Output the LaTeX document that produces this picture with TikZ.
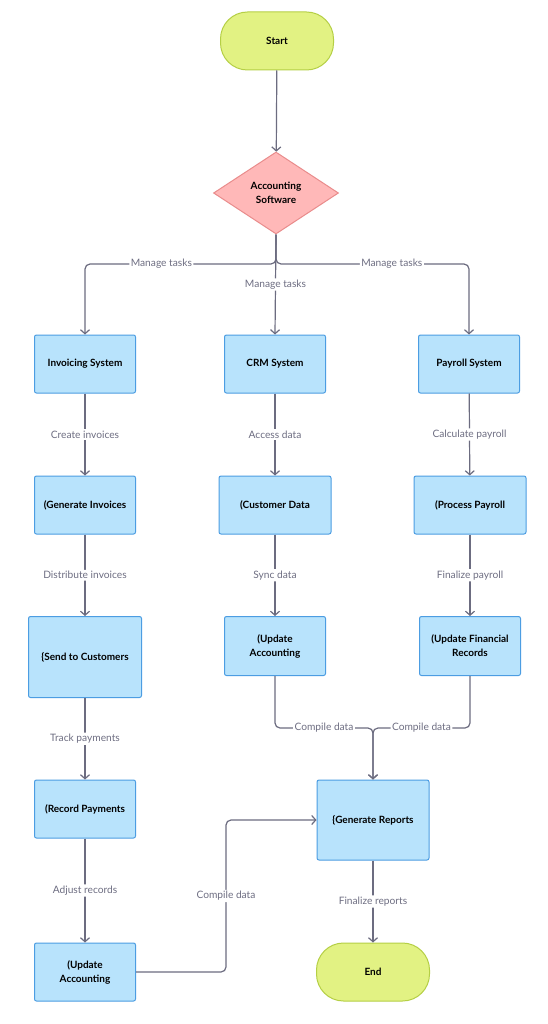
\documentclass[tikz,border=0pt]{standalone}
\usepackage{fontspec}
\setmainfont{Lato}
\usetikzlibrary{shapes.geometric,arrows.meta}
\definecolor{termfill}{HTML}{E2F283}
\definecolor{termline}{HTML}{B5CF45}
\definecolor{decfill}{HTML}{FFB8B8}
\definecolor{decline}{HTML}{E98C8C}
\definecolor{boxfill}{HTML}{B8E3FC}
\definecolor{boxline}{HTML}{4C9DE2}
\definecolor{flowcol}{HTML}{6C6C80}
\definecolor{lblcol}{HTML}{6E6E82}
\tikzset{
    term/.style={draw=termline, fill=termfill, line width=1pt, rounded corners=27pt,
        minimum width=113pt, minimum height=58pt, font=\bfseries\fontsize{10}{12}\selectfont},
    dec/.style={draw=decline, fill=decfill, line width=1pt, diamond, inner sep=0pt,
        minimum width=125pt, minimum height=82pt, align=center, font=\bfseries\fontsize{10}{14}\selectfont},
    box/.style={draw=boxline, fill=boxfill, line width=1pt, rounded corners=2pt,
        minimum width=101pt, minimum height=58pt, align=center, font=\bfseries\fontsize{10}{14}\selectfont},
    flow/.style={draw=flowcol, line width=1.2pt, rounded corners=5pt,
        -{Straight Barb[length=4pt,width=9pt]}},
    lbl/.style={fill=white, text=lblcol, inner sep=1.5pt, font=\fontsize{10.2}{12}\selectfont},
}
\begin{document}
\begin{tikzpicture}[x=1pt,y=-1pt]
    \useasboundingbox[fill=white] (0,0) rectangle (547,1024);

    % top
    \node[term] (start) at (277,41) {Start};
    \node[dec] (acc) at (276,193) {Accounting\\Software};

    % three systems
    \node[box] (inv) at (85,364) {Invoicing System};
    \node[box] (crm) at (275,364) {CRM System};
    \node[box] (pay) at (469,364) {Payroll System};

    % left column
    \node[box] (geninv) at (85,505) {(Generate Invoices};
    \node[box, minimum width=113pt, minimum height=81pt] (send) at (85,657) {\{Send to Customers};
    \node[box] (recpay) at (85,809) {(Record Payments};
    \node[box] (updleft) at (85,972) {(Update\\Accounting};

    % middle column
    \node[box, minimum width=112pt] (cust) at (275,505) {(Customer Data};
    \node[box, minimum height=59pt] (updmid) at (275,646) {(Update\\Accounting};

    % right column
    \node[box, minimum width=112pt] (proc) at (470,505) {(Process Payroll};
    \node[box, minimum height=59pt] (updfin) at (470,646) {(Update Financial\\Records};

    % end
    \node[box, minimum width=112pt, minimum height=80pt] (rep) at (373,820) {\{Generate Reports};
    \node[term] (end) at (373,972) {End};

    \coordinate (split) at (276,264);
    \coordinate (join) at (373,728);
    \coordinate (cbend) at (226,820);

    \draw[flow] (start) -- (acc);
    \draw[flow] (acc.south) -- (split) -| node[lbl, pos=0.3] {Manage tasks} (inv.north);
    \draw[flow] (acc.south) -- (split) -| node[lbl, pos=0.3] {Manage tasks} (pay.north);
    \draw[flow] (acc.south) -- node[lbl, pos=0.5] {Manage tasks} (crm.north);

    \draw[flow] (inv) -- node[lbl] {Create invoices} (geninv);
    \draw[flow] (geninv) -- node[lbl] {Distribute invoices} (send);
    \draw[flow] (send) -- node[lbl] {Track payments} (recpay);
    \draw[flow] (recpay) -- node[lbl] {Adjust records} (updleft);
    \draw[flow] (updleft.east) -| node[lbl, pos=0.75] {Compile data} (cbend) -- (rep.west);

    \draw[flow] (crm) -- node[lbl] {Access data} (cust);
    \draw[flow] (cust) -- node[lbl] {Sync data} (updmid);
    \draw[flow] (updmid.south) |- node[lbl, pos=0.75] {Compile data} (join) -- (rep.north);

    \draw[flow] (pay) -- node[lbl] {Calculate payroll} (proc);
    \draw[flow] (proc) -- node[lbl] {Finalize payroll} (updfin);
    \draw[flow] (updfin.south) |- node[lbl, pos=0.75] {Compile data} (join) -- (rep.north);

    \draw[flow] (rep) -- node[lbl] {Finalize reports} (end);
\end{tikzpicture}
\end{document}
